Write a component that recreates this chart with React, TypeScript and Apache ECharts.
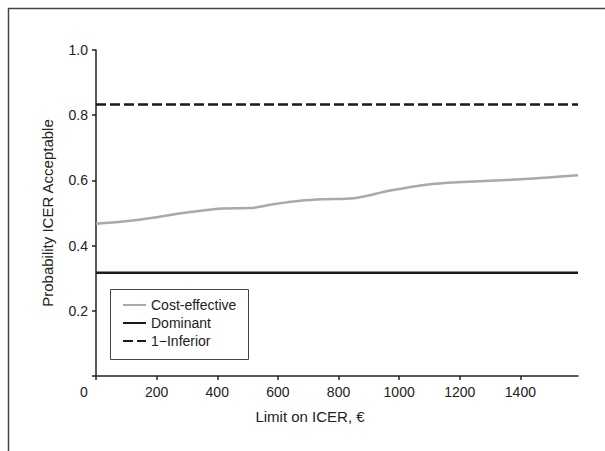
import React, { useEffect, useRef } from "react";
import * as echarts from "echarts";

const costLimits = [0, 90, 200, 310, 420, 510, 580, 680, 750, 850, 970, 1090, 1210, 1370, 1490, 1590];
const costEffective = [0.467, 0.474, 0.487, 0.503, 0.514, 0.515, 0.526, 0.538, 0.542, 0.545, 0.569, 0.587, 0.595, 0.602, 0.609, 0.616];
const dominantValue = 0.317;
const oneMinusInferiorValue = 0.833;
const xTicks = [0, 200, 400, 600, 800, 1000, 1200, 1400];
const xTickLabels = [200, 400, 600, 800, 1000, 1200, 1400];
const yTicks = [0, 0.2, 0.4, 0.6, 0.8, 1.0];
const yTickLabels = [0.2, 0.4, 0.6, 0.8, 1.0];
const seriesNames = ["Cost-effective", "Dominant", "1\u2212Inferior"];
const xName = "Limit on ICER, \u20ac";
const yName = "Probability ICER Acceptable";

const FONT = "'Liberation Sans Narrow', 'Arial Narrow', 'Liberation Sans', Arial, sans-serif";
const TEXT = "#222";

export default function App() {
  const ref = useRef<HTMLDivElement>(null);
  useEffect(() => {
    if (!ref.current) return;
    const chart = echarts.init(ref.current, null, { renderer: "svg" });
    const xMax = costLimits[costLimits.length - 1];
    chart.setOption({
      animation: false,
      backgroundColor: "#fff",
      textStyle: { fontFamily: FONT },
      grid: { left: 96, right: 27, top: 50, bottom: 75 },
      xAxis: {
        type: "value",
        min: 0,
        max: xMax,
        interval: 200,
        axisLine: { show: true, lineStyle: { color: "#222", width: 1.5 } },
        axisTick: { show: true, length: 4, lineStyle: { color: "#222", width: 1.5 }, customValues: xTicks },
        axisLabel: {
          color: TEXT,
          fontSize: 14,
          margin: 9,
          fontFamily: FONT,
          customValues: xTickLabels,
          formatter: (v: number) => String(v),
        },
        splitLine: { show: false },
      },
      yAxis: {
        type: "value",
        min: 0,
        max: 1,
        interval: 0.2,
        name: yName,
        nameLocation: "middle",
        nameGap: 41,
        nameTextStyle: { color: TEXT, fontSize: 15, fontFamily: FONT },
        axisLine: { show: true, lineStyle: { color: "#222", width: 1.5 } },
        axisTick: { show: true, length: 4, lineStyle: { color: "#222", width: 1.5 }, customValues: yTicks },
        axisLabel: {
          color: TEXT,
          fontSize: 14,
          margin: 8,
          fontFamily: FONT,
          customValues: yTickLabels,
          formatter: (v: number) => v.toFixed(1),
        },
        splitLine: { show: false },
      },
      legend: {
        orient: "vertical",
        left: 122,
        top: 298,
        padding: 0,
        itemWidth: 23,
        itemHeight: 14,
        itemGap: 4,
        data: seriesNames,
        itemStyle: { opacity: 0 },
        textStyle: { color: TEXT, fontSize: 14, fontFamily: FONT, lineHeight: 14 },
      },
      graphic: [
        {
          type: "rect",
          shape: { x: 8.5, y: 8.5, width: 800, height: 700 },
          style: { fill: "none", stroke: "#444", lineWidth: 1.5 },
          silent: true,
        },
        {
          type: "rect",
          shape: { x: 110.5, y: 289.5, width: 138, height: 70 },
          style: { fill: "none", stroke: "#444", lineWidth: 1 },
          silent: true,
          z: 10,
        },
        {
          type: "text",
          x: 84,
          y: 392,
          style: { text: "0", fill: TEXT, font: `14px ${FONT}`, align: "center", verticalAlign: "middle" },
        },
        {
          type: "text",
          x: 310,
          y: 416,
          style: { text: xName, fill: TEXT, font: `15px ${FONT}`, align: "center", verticalAlign: "middle" },
        },
      ],
      series: [
        {
          name: seriesNames[0],
          type: "line",
          data: costLimits.map((x, i) => [x, costEffective[i]]),
          smooth: 0.3,
          symbol: "none",
          lineStyle: { color: "#a9a9ab", width: 2.5 },
          itemStyle: { color: "#a9a9ab" },
        },
        {
          name: seriesNames[1],
          type: "line",
          data: [[0, dominantValue], [xMax, dominantValue]],
          symbol: "none",
          lineStyle: { color: "#1a1a1a", width: 2.5 },
          itemStyle: { color: "#1a1a1a" },
        },
        {
          name: seriesNames[2],
          type: "line",
          data: [[0, oneMinusInferiorValue], [xMax, oneMinusInferiorValue]],
          symbol: "none",
          lineStyle: { color: "#1a1a1a", width: 2.5, type: [10, 4] },
          itemStyle: { color: "#1a1a1a" },
        },
      ],
    });
    return () => chart.dispose();
  }, []);
  return <div ref={ref} style={{ position: "fixed", left: 0, top: 0, width: 605, height: 451 }} />;
}
